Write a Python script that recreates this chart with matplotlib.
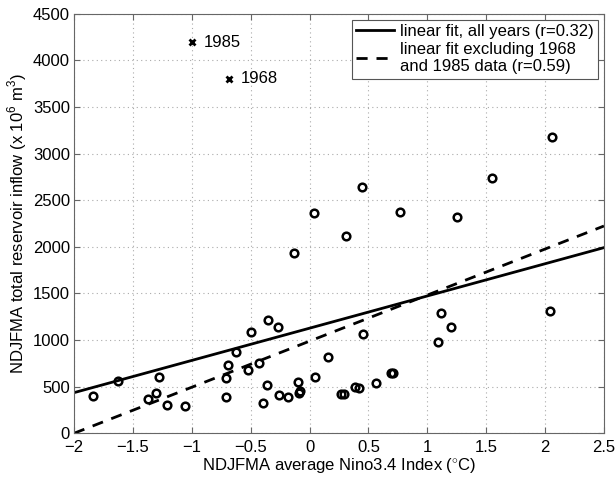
import matplotlib
matplotlib.use("Agg")
import matplotlib.pyplot as plt
import numpy as np

plt.rcParams['font.family'] = ['Liberation Sans', 'DejaVu Sans']
plt.rcParams['mathtext.fontset'] = 'custom'
plt.rcParams['mathtext.rm'] = 'Liberation Sans'

# NDJFMA Nino3.4 index (x) and total reservoir inflow (y), circles
nino = [-1.836, -1.626, -1.374, -1.301, -1.276, -1.211, -1.055, -0.710, -0.707,
        -0.690, -0.625, -0.520, -0.500, -0.430, -0.398, -0.364, -0.353, -0.266,
        -0.257, -0.181, -0.130, -0.101, -0.088, -0.084, 0.037, 0.046, 0.154,
        0.264, 0.290, 0.309, 0.388, 0.417, 0.445, 0.456, 0.561, 0.691, 0.705,
        0.765, 1.090, 1.118, 1.198, 1.254, 1.548, 2.041, 2.063]
inflow = [403, 561, 368, 429, 607, 304, 293, 390, 590,
          736, 869, 679, 1087, 751, 325, 515, 1216, 1144,
          414, 386, 1938, 547, 430, 455, 2360, 601, 822,
          425, 425, 2117, 497, 486, 2636, 1069, 536, 644, 644,
          2374, 980, 1294, 1144, 2324, 2743, 1312, 3176]

# outlier years (crosses)
out_years = ['1985', '1968']
out_nino = [-1.001, -0.687]
out_inflow = [4191, 3801]

# linear fits [slope, intercept]
fit_all = [345.6, 1127.0]
fit_excl = [494.0, 988.0]

fig = plt.figure(figsize=(6.15, 4.8), dpi=100)
ax = fig.add_axes([0.1203, 0.0973, 0.8617, 0.8742])

xl = np.array([-2.0, 2.5])
ax.plot(xl, fit_all[0] * xl + fit_all[1], '-', color='black', lw=2.0,
        label='linear fit, all years (r=0.32)')
ax.plot(xl, fit_excl[0] * xl + fit_excl[1], '--', color='black', lw=2.0,
        dashes=(4, 3.2), label='linear fit excluding 1968\nand 1985 data (r=0.59)')

ax.plot(nino, inflow, 'o', mfc='none', mec='black', ms=5.5, mew=1.8)
ax.plot(out_nino, out_inflow, 'x', color='black', ms=4.5, mew=2.0)
for yr, xv, yv in zip(out_years, out_nino, out_inflow):
    ax.annotate(yr, (xv, yv), xytext=(9, 0), textcoords='offset points',
                va='center', ha='left', fontsize=12)

ax.set_xlim(-2, 2.5)
ax.set_ylim(0, 4500)
ax.set_xticks(np.arange(-2, 2.51, 0.5))
ax.set_xticklabels(['\u22122', '\u22121.5', '\u22121', '\u22120.5', '0', '0.5',
                    '1', '1.5', '2', '2.5'])
ax.set_yticks(np.arange(0, 4501, 500))
ax.tick_params(direction='in', top=True, right=True, labelsize=12,
               length=4, color='#666666')
ax.tick_params(axis='x', pad=5)
ax.tick_params(axis='y', pad=3)
for s in ax.spines.values():
    s.set_color('#666666')
ax.grid(True, linestyle=(0, (1, 3)), color='#aaaaaa', lw=0.8)
ax.set_axisbelow(True)

ax.set_xlabel('NDJFMA average Nino3.4 Index ($^{\\circ}$C)', fontsize=12, labelpad=1)
ax.set_ylabel('NDJFMA total reservoir inflow (x 10$^{6}$ m$^{3}$)', fontsize=12, labelpad=3)

leg = ax.legend(loc='upper right', fontsize=12, frameon=True, fancybox=False,
                edgecolor='#555555', framealpha=1, handlelength=2.3,
                borderpad=0.25, labelspacing=0.2, handletextpad=0.35,
                borderaxespad=0.35)
leg.get_frame().set_linewidth(0.8)

fig.savefig('out.png', dpi=100)
